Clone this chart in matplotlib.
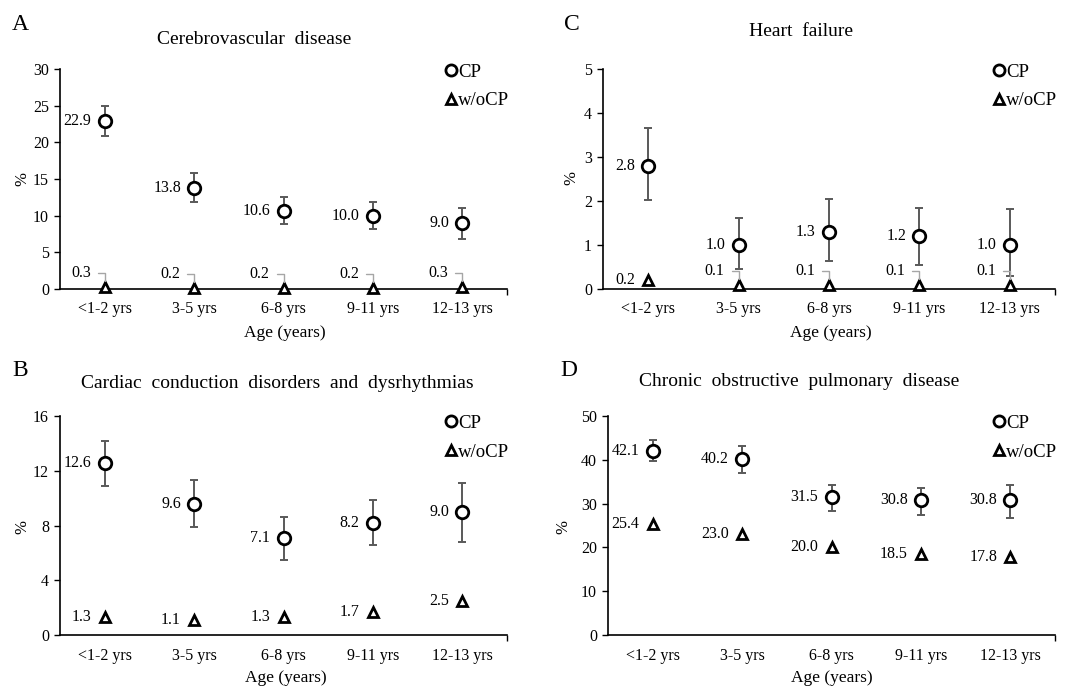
import matplotlib
matplotlib.use("Agg")
import matplotlib.pyplot as plt
from matplotlib.lines import Line2D
from matplotlib.ticker import MultipleLocator

plt.rcParams['font.family'] = ['Liberation Serif', 'DejaVu Serif']

# ---------------- data ----------------
age_groups = ["<1-2 yrs", "3-5 yrs", "6-8 yrs", "9-11 yrs", "12-13 yrs"]

# A: Cerebrovascular disease
a_cp = [22.9, 13.8, 10.6, 10.0, 9.0]
a_cp_lo = [20.8, 11.9, 8.9, 8.2, 6.8]
a_cp_hi = [25.0, 15.8, 12.5, 11.8, 11.1]
a_wo = [0.3, 0.2, 0.2, 0.2, 0.3]

# C: Heart failure
c_cp = [2.8, 1.0, 1.3, 1.2, 1.0]
c_cp_lo = [2.02, 0.46, 0.64, 0.54, 0.29]
c_cp_hi = [3.66, 1.61, 2.04, 1.84, 1.81]
c_wo = [0.2, 0.1, 0.1, 0.1, 0.1]

# B: Cardiac conduction disorders and dysrhythmias
b_cp = [12.6, 9.6, 7.1, 8.2, 9.0]
b_cp_lo = [10.9, 7.9, 5.5, 6.6, 6.8]
b_cp_hi = [14.2, 11.3, 8.6, 9.85, 11.1]
b_wo = [1.3, 1.1, 1.3, 1.7, 2.5]

# D: Chronic obstructive pulmonary disease
d_cp = [42.1, 40.2, 31.5, 30.8, 30.8]
d_cp_lo = [39.7, 37.0, 28.3, 27.5, 26.8]
d_cp_hi = [44.5, 43.2, 34.3, 33.5, 34.3]
d_wo = [25.4, 23.0, 20.0, 18.5, 17.8]

titles = {"A": "Cerebrovascular  disease",
          "C": "Heart  failure",
          "B": "Cardiac  conduction  disorders  and  dysrhythmias",
          "D": "Chronic  obstructive  pulmonary  disease"}
legend_labels = ["CP", "w/oCP"]
x_label = "Age (years)"
y_label = "%"

# ---------------- figure ----------------
W, H = 1070, 690
fig = plt.figure(figsize=(W / 100, H / 100), dpi=100)


def px_rect(l, r, t, b):
    return [l / W, 1 - b / H, (r - l) / W, (b - t) / H]


panels = [
    ("A", px_rect(60, 507, 69, 289), a_cp, a_cp_lo, a_cp_hi, a_wo, 30, 5,
     [True] * 5, (254, 40), (12, 25), (285, 333), (22, 179), (1.005, 1.025)),
    ("C", px_rect(603, 1055, 69, 289), c_cp, c_cp_lo, c_cp_hi, c_wo, 5, 1,
     [False, True, True, True, True], (801, 32), (564, 25), (831, 333), (571, 178),
     (1.005, 1.025)),
    ("B", px_rect(60, 507, 416, 635), b_cp, b_cp_lo, b_cp_hi, b_wo, 16, 4,
     [False] * 5, (277, 383), (12, 371), (286, 678), (22, 527), (1.005, 1.005)),
    ("D", px_rect(608, 1055, 416, 635), d_cp, d_cp_lo, d_cp_hi, d_wo, 50, 10,
     [False] * 5, (799, 382), (560, 371), (832, 678), (563, 527), (1.005, 1.005)),
]

err_col = "#595959"
lead_col = "#a6a6a6"
fs = 11.5

for (letter, rect, cp, lo, hi, wo, ymax, ystep, leaders,
     tpos, lpos, xlpos, ylpos, legpos) in panels:
    ax = fig.add_axes(rect)
    x = list(range(len(age_groups)))
    yerr = [[c - l for c, l in zip(cp, lo)], [h - c for c, h in zip(cp, hi)]]
    ax.errorbar(x, cp, yerr=yerr, fmt='none', ecolor=err_col, elinewidth=1.4,
                capsize=2.6, capthick=1.4, zorder=2)
    ax.plot(x, cp, linestyle='none', marker='o', markersize=9, markerfacecolor='white',
            markeredgecolor='black', markeredgewidth=2, zorder=3)
    ax.plot(x, wo, linestyle='none', marker='^', markersize=7.5, markerfacecolor='white',
            markeredgecolor='black', markeredgewidth=2, zorder=3, clip_on=False)

    for xi, v in zip(x, cp):
        ax.annotate(f"{v:.1f}", (xi, v), xytext=(-9.5, 0), textcoords='offset points',
                    ha='right', va='center', fontsize=fs)
    for xi, v, lead in zip(x, wo, leaders):
        if lead:
            ax.annotate(f"{v:.1f}", (xi, v), xytext=(-10, 10), textcoords='offset points',
                        ha='right', va='center', fontsize=fs,
                        arrowprops=dict(arrowstyle='-', color=lead_col, lw=1.0,
                                        connectionstyle='angle,angleA=0,angleB=90,rad=0',
                                        shrinkA=3, shrinkB=4))
        else:
            ax.annotate(f"{v:.1f}", (xi, v), xytext=(-9.5, 0), textcoords='offset points',
                        ha='right', va='center', fontsize=fs)

    ax.set_xlim(-0.5, len(age_groups) - 0.5)
    ax.set_ylim(0, ymax)
    ax.yaxis.set_major_locator(MultipleLocator(ystep))
    ax.set_xticks(x)
    ax.set_xticklabels(age_groups, fontsize=fs)
    ax.tick_params(axis='x', length=0, pad=9)
    ax.set_xticks([len(age_groups) - 0.5], minor=True)
    ax.tick_params(axis='x', which='minor', length=4, width=1)
    ax.tick_params(axis='y', length=4, width=1, labelsize=fs, pad=4)
    for s in ('top', 'right'):
        ax.spines[s].set_visible(False)
    for s in ('left', 'bottom'):
        ax.spines[s].set_linewidth(1.2)

    handles = [Line2D([], [], linestyle='none', marker='o', markersize=8, markerfacecolor='white',
                      markeredgecolor='black', markeredgewidth=2),
               Line2D([], [], linestyle='none', marker='^', markersize=7, markerfacecolor='white',
                      markeredgecolor='black', markeredgewidth=2)]
    ax.legend(handles, legend_labels, loc='upper right', bbox_to_anchor=legpos,
              frameon=False, fontsize=13.5, handlelength=0.6, handletextpad=0.1,
              labelspacing=0.62, borderaxespad=0, borderpad=0)

    fig.text(tpos[0] / W, 1 - tpos[1] / H, titles[letter], ha='center', va='center', fontsize=14)
    fig.text(lpos[0] / W, 1 - lpos[1] / H, letter, ha='left', va='center', fontsize=17)
    fig.text(xlpos[0] / W, 1 - xlpos[1] / H, x_label, ha='center', va='center', fontsize=12.5)
    fig.text(ylpos[0] / W, 1 - ylpos[1] / H, y_label, ha='center', va='center', fontsize=12,
             rotation=90)

fig.savefig("out.png", dpi=100)
